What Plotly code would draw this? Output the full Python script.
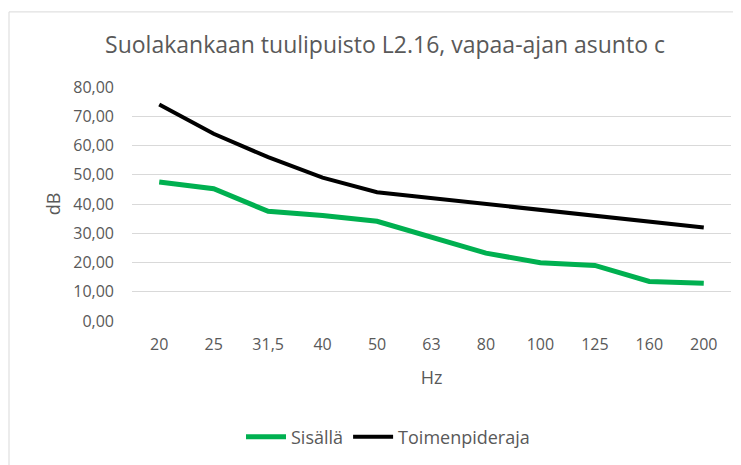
import plotly.graph_objects as go

categories = ["20", "25", "31,5", "40", "50", "63", "80", "100", "125", "160", "200"]
sisalla = [47.5, 45.2, 37.5, 36.1, 34.1, 28.7, 23.2, 19.9, 19.0, 13.5, 12.9]
toimenpideraja = [74, 64, 56, 49, 44, 42, 40, 38, 36, 34, 32]
y_ticks = [0, 10, 20, 30, 40, 50, 60, 70, 80]
y_tick_labels = ["0,00", "10,00", "20,00", "30,00", "40,00", "50,00", "60,00", "70,00", "80,00"]

FONT = "Open Sans"
GRAY = "#595959"

fig = go.Figure()
fig.add_trace(go.Scatter(x=categories, y=sisalla, mode="lines", name="Sisällä",
                         line=dict(color="#00b050", width=5)))
fig.add_trace(go.Scatter(x=categories, y=toimenpideraja, mode="lines", name="Toimenpideraja",
                         line=dict(color="#000000", width=4)))

OFF = 8  # page body margin
W, H = 741 - OFF, 465 - OFF
L = 132 - OFF
T = 87 - OFF
R = 741 - 731
B = 465 - 320.7
pw = W - L - R
ph = H - T - B

def cx(px):
    return (px - OFF) / W

def cy(py):
    return 1 - (py - OFF) / H

fig.update_layout(
    width=W, height=H,
    margin=dict(l=L, r=R, t=T, b=B),
    paper_bgcolor="white", plot_bgcolor="white",
    font=dict(family=FONT, color=GRAY),
    title=dict(text="Suolakankaan tuulipuisto L2.16, vapaa-ajan asunto c",
               x=cx(385), xref="container", xanchor="center",
               y=cy(45), yref="container", yanchor="middle",
               font=dict(family=FONT, size=23, color=GRAY)),
    xaxis=dict(type="category", range=[-0.5, 10.5], showgrid=False, zeroline=False,
               showline=False, ticks="", ticklabelstandoff=12,
               tickfont=dict(size=16, color=GRAY),
               title=dict(text="Hz", font=dict(size=18, color=GRAY), standoff=17)),
    yaxis=dict(range=[0, 80], tickvals=y_ticks, ticktext=y_tick_labels,
               showgrid=True, gridcolor="#d9d9d9", gridwidth=1,
               zeroline=False, showline=False, ticks="", ticklabelstandoff=17,
               tickfont=dict(size=16, color=GRAY)),
    legend=dict(orientation="h", x=cx(388), xref="container", xanchor="center",
                y=cy(437), yref="container", yanchor="middle",
                font=dict(size=18, color=GRAY), itemwidth=40),
    showlegend=True,
)

# y-axis title placed like the original
fig.add_annotation(text="dB", textangle=-90, showarrow=False,
                   xref="paper", yref="paper",
                   x=(53 - 132) / pw, y=(320.7 - 204) / ph,
                   xanchor="center", yanchor="middle",
                   font=dict(family=FONT, size=18, color=GRAY))

# chart frame border
fig.add_shape(type="rect", xref="paper", yref="paper",
              x0=(9 - 132) / pw, x1=(741 + 20 - 132) / pw,
              y0=-(465 - 320.7 + 20) / ph, y1=(320.7 - 12) / ph,
              line=dict(color="#d9d9d9", width=1), fillcolor="rgba(0,0,0,0)", layer="below")

fig.write_html("out.html")
